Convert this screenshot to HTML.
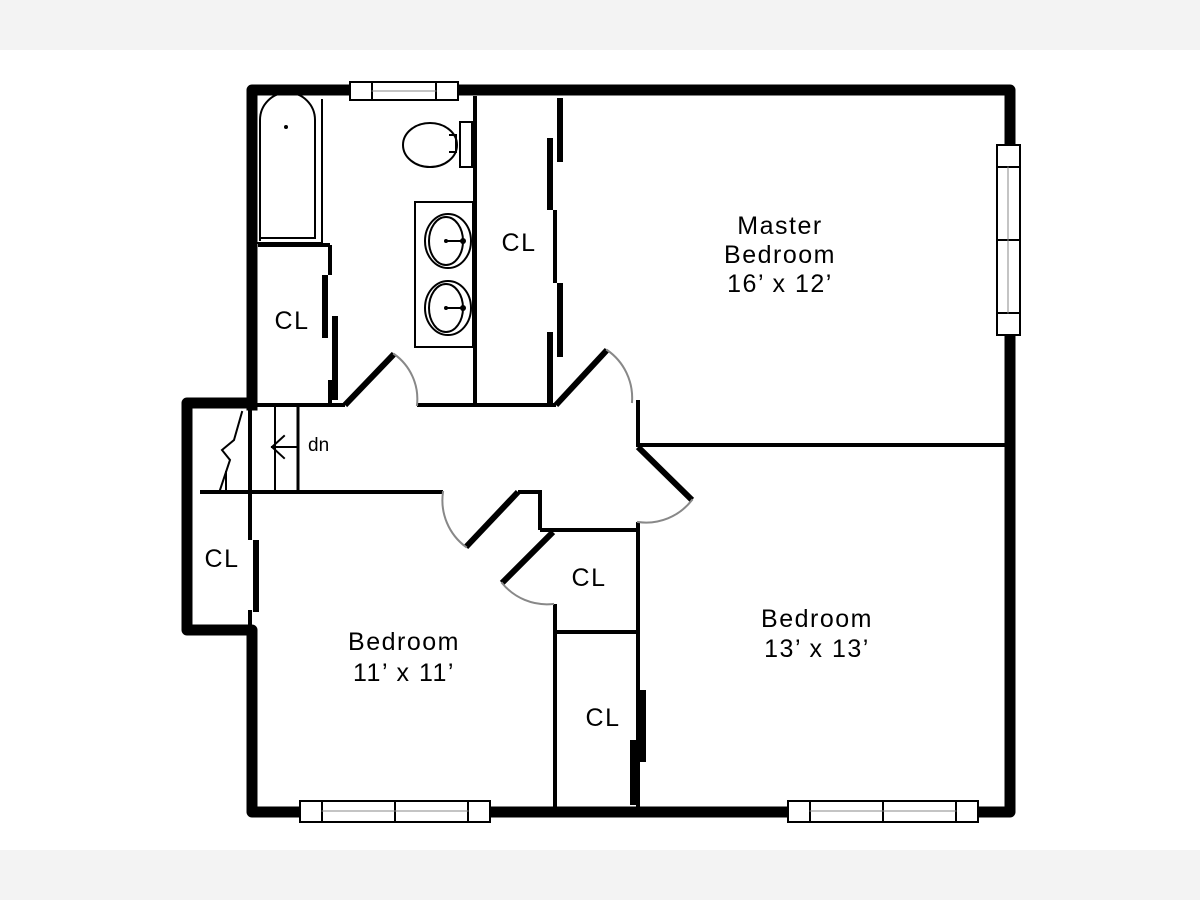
<!DOCTYPE html>
<html><head><meta charset="utf-8"><style>
html,body{margin:0;padding:0;background:#fff}
svg{display:block}
text{font-family:"Liberation Sans",sans-serif;fill:#000}
</style></head><body>
<svg width="1200" height="900" viewBox="0 0 1200 900" xmlns="http://www.w3.org/2000/svg">
<rect x="0" y="0" width="1200" height="50" fill="#f3f3f3"/>
<rect x="0" y="850" width="1200" height="50" fill="#f3f3f3"/>
<g stroke="#000" fill="none" stroke-linecap="square">
<path d="M252 405 V90 H1010 V812 H252 V630 H187 V403 H252" stroke-width="11" stroke-linejoin="round"/>
<g stroke-width="4" stroke-linecap="butt">
<line x1="475" y1="96" x2="475" y2="405"/>
<line x1="200" y1="405" x2="345" y2="405"/>
<line x1="417" y1="405" x2="556" y2="405"/>
<line x1="638" y1="400" x2="638" y2="447"/>
<line x1="638" y1="445" x2="1005" y2="445"/>
<line x1="200" y1="492" x2="443" y2="492"/>
<line x1="518" y1="492" x2="540" y2="492"/>
<line x1="540" y1="490" x2="540" y2="530"/>
<line x1="540" y1="530" x2="638" y2="530"/>
<line x1="638" y1="522" x2="638" y2="808"/>
<line x1="555" y1="604" x2="555" y2="808"/>
<line x1="555" y1="632" x2="638" y2="632"/>
<line x1="258" y1="245" x2="330" y2="245"/>
<line x1="330" y1="245" x2="330" y2="275"/>
<line x1="330" y1="380" x2="330" y2="405"/>
<line x1="250" y1="492" x2="250" y2="540"/>
<line x1="250" y1="610" x2="250" y2="628"/>
<line x1="555" y1="210" x2="555" y2="283"/>
<line x1="250" y1="405" x2="250" y2="492"/>
<line x1="275" y1="405" x2="275" y2="492" stroke-width="2"/>
<line x1="298" y1="405" x2="298" y2="492" stroke-width="3"/>
</g>
<g stroke-width="6" stroke-linecap="butt">
<line x1="560" y1="98" x2="560" y2="162"/>
<line x1="550" y1="138" x2="550" y2="210"/>
<line x1="560" y1="283" x2="560" y2="357"/>
<line x1="550" y1="332" x2="550" y2="405"/>
<line x1="325" y1="275" x2="325" y2="338"/>
<line x1="335" y1="316" x2="335" y2="400"/>
<line x1="256" y1="540" x2="256" y2="612"/>
<line x1="643" y1="690" x2="643" y2="762"/>
<line x1="633" y1="740" x2="633" y2="805"/>
<line x1="345" y1="405" x2="394" y2="354"/>
<line x1="556" y1="405" x2="607" y2="350"/>
<line x1="638" y1="447" x2="692" y2="500"/>
<line x1="518" y1="492" x2="466" y2="547"/>
<line x1="553" y1="532" x2="502" y2="583"/>
</g>
<g stroke="#888" stroke-width="2">
<path d="M394 354 A55 55 0 0 1 417 405"/>
<path d="M607 350 A58 58 0 0 1 632 402"/>
<path d="M692 500 A58 58 0 0 1 638 522"/>
<path d="M443 492 A58 58 0 0 0 466 547"/>
<path d="M502 583 A58 58 0 0 0 553 604"/>
</g>
<g fill="#fff" stroke-width="2">
<rect x="350" y="82" width="108" height="18"/>
<line x1="372" y1="82" x2="372" y2="100"/><line x1="436" y1="82" x2="436" y2="100"/>
<rect x="997" y="145" width="23" height="190"/>
<line x1="997" y1="167" x2="1020" y2="167"/><line x1="997" y1="313" x2="1020" y2="313"/>
<line x1="997" y1="240" x2="1020" y2="240"/>
<rect x="300" y="801" width="190" height="21"/>
<line x1="322" y1="801" x2="322" y2="822"/><line x1="468" y1="801" x2="468" y2="822"/><line x1="395" y1="801" x2="395" y2="822"/>
<rect x="788" y="801" width="190" height="21"/>
<line x1="810" y1="801" x2="810" y2="822"/><line x1="956" y1="801" x2="956" y2="822"/><line x1="883" y1="801" x2="883" y2="822"/>
</g>
<line x1="372" y1="91" x2="436" y2="91" stroke="#888" stroke-width="1"/>
<line x1="1008" y1="167" x2="1008" y2="313" stroke="#888" stroke-width="1"/>
<line x1="322" y1="811" x2="468" y2="811" stroke="#888" stroke-width="1"/>
<line x1="810" y1="811" x2="956" y2="811" stroke="#888" stroke-width="1"/>
<g stroke-width="2">
<path d="M260 240 V120 A27 27 0 0 1 315 120 V238 H260"/>
<line x1="322" y1="100" x2="322" y2="243"/>
<line x1="258" y1="243" x2="322" y2="243"/>
<ellipse cx="430" cy="145" rx="27" ry="22"/>
<rect x="460" y="122" width="12" height="45" fill="#fff"/>
<path d="M450 135 H456 V152 H450"/>
<rect x="415" y="202" width="58" height="145"/>
<ellipse cx="448" cy="241" rx="23" ry="27"/>
<ellipse cx="446" cy="241" rx="17" ry="24"/>
<ellipse cx="448" cy="308" rx="23" ry="27"/>
<ellipse cx="446" cy="308" rx="17" ry="24"/>
<line x1="446" y1="241" x2="463" y2="241"/>
<line x1="446" y1="308" x2="463" y2="308"/>
<line x1="272" y1="447" x2="298" y2="447"/>
<path d="M284 436 L272 447 L284 458"/>
<path d="M242 412 L234 440 L222 450 L230 460 L220 490 M226 472 V490"/>
</g>
<circle cx="286" cy="127" r="2" fill="#000" stroke="none"/>
<circle cx="446" cy="241" r="2" fill="#000" stroke="none"/>
<circle cx="446" cy="308" r="2" fill="#000" stroke="none"/>
<circle cx="463" cy="241" r="3" fill="#000" stroke="none"/>
<circle cx="463" cy="308" r="3" fill="#000" stroke="none"/>
</g>
<g font-size="25" text-anchor="middle" letter-spacing="1.5">
<text x="292" y="329">CL</text>
<text x="519" y="251">CL</text>
<text x="222" y="567">CL</text>
<text x="589" y="586">CL</text>
<text x="603" y="726">CL</text>
<text x="780" y="234">Master</text>
<text x="780" y="263">Bedroom</text>
<text x="780" y="292">16’ x 12’</text>
<text x="817" y="627">Bedroom</text>
<text x="817" y="657">13’ x 13’</text>
<text x="404" y="650">Bedroom</text>
<text x="404" y="681">11’ x 11’</text>
</g>
<text x="308" y="451" font-size="19">dn</text>
</svg>
</body></html>
